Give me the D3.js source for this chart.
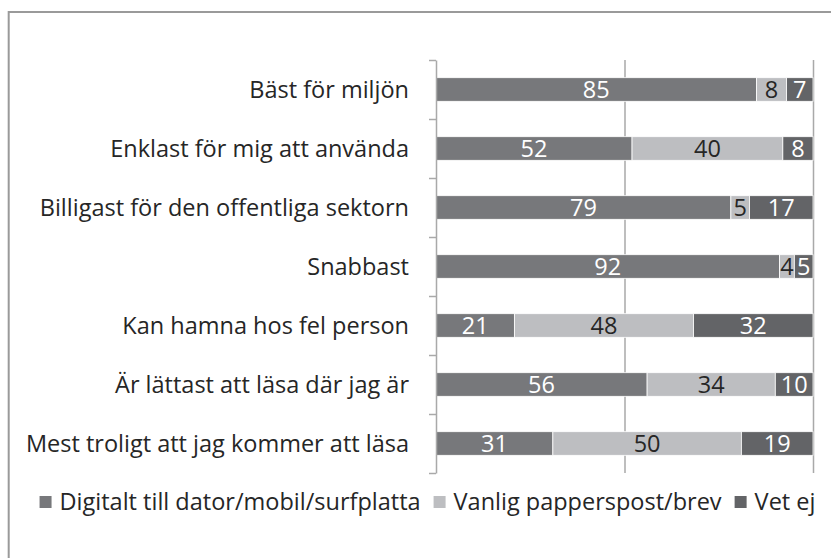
<!DOCTYPE html>
<html>
<head>
<meta charset="utf-8">
<script src="https://cdn.jsdelivr.net/npm/d3@7/dist/d3.min.js"></script>
<style>
	body { margin: 0; background: #ffffff; }
	text { font-family: "Open Sans", Lato, sans-serif; }
</style>
</head>
<body>
<svg id="chart"></svg>
<script>

var categories = ["Bäst för miljön", "Enklast för mig att använda", "Billigast för den offentliga sektorn",
	"Snabbast", "Kan hamna hos fel person", "Är lättast att läsa där jag är", "Mest troligt att jag kommer att läsa"];
var seriesNames = ["Digitalt till dator/mobil/surfplatta", "Vanlig papperspost/brev", "Vet ej"];
var digitalt = [85, 52, 79, 92, 21, 56, 31];
var papper = [8, 40, 5, 4, 48, 34, 50];
var vetEj = [7, 8, 17, 5, 32, 10, 19];
var gridTicks = [0.5, 1];

var WIDTH = 831, HEIGHT = 558,
	FONT = 23.5,
	colors = ["#77787b", "#bdbec1", "#636467"],
	labelColors = ["#ffffff", "#262626", "#ffffff"],
	_margin = {top: 60, right: 18, bottom: 85, left: 436};

var rows = categories.map(function(c, i) {
	return {cat: c, s0: digitalt[i], s1: papper[i], s2: vetEj[i]};
});

var _svg = d3.select("#chart").attr("width", WIDTH).attr("height", HEIGHT);

var _x = d3.scaleLinear().domain([0, 1]).range([_margin.left, WIDTH - _margin.right]);
var _y = d3.scaleBand().domain(categories).range([_margin.top, HEIGHT - _margin.bottom]).padding(0);
var _edges = d3.scaleLinear().domain([0, categories.length]).range(_y.range());

var stack = d3.stack().keys(["s0", "s1", "s2"]).offset(d3.stackOffsetExpand);
var layers = stack(rows);

// outer frame (only top and left visible)
_svg.append("path")
	.attr("d", "M8.7," + HEIGHT + "V12H" + WIDTH)
	.style("fill", "none")
	.style("stroke", "#9a9a9a")
	.style("stroke-width", 2);

// vertical gridlines
var grid = _svg.append("g")
	.attr("transform", "translate(0," + _y.range()[1] + ")")
	.call(d3.axisBottom(_x).tickValues(gridTicks).tickSize(-(_y.range()[1] - _y.range()[0])).tickFormat(""));
grid.select(".domain").remove();
grid.selectAll(".tick line").style("stroke", "#a9a9a9").style("stroke-width", 1.5);

// bars
var barH = _y.bandwidth() * 0.4;
var barOff = (_y.bandwidth() - barH) / 2;

var layer = _svg.selectAll(".layer")
	.data(layers)
	.enter().append("g")
	.attr("class", "layer")
	.style("fill", function(d, i) { return colors[i]; });

layer.selectAll("rect")
	.data(function(d) { return d; })
	.enter().append("rect")
	.attr("x", function(d) { return _x(d[0]); })
	.attr("y", function(d) { return _y(d.data.cat) + barOff; })
	.attr("width", function(d) { return _x(d[1]) - _x(d[0]); })
	.attr("height", barH)
	.style("stroke", "#ffffff")
	.style("stroke-width", 0.8);

layer.selectAll(".value")
	.data(function(d, i) { return d.map(function(p) { return {p: p, i: i, key: d.key}; }); })
	.enter().append("text")
	.attr("class", "value")
	.attr("x", function(d) { return (_x(d.p[0]) + _x(d.p[1])) / 2; })
	.attr("y", function(d) { return _y(d.p.data.cat) + _y.bandwidth() / 2; })
	.attr("dy", "0.36em")
	.attr("text-anchor", "middle")
	.style("font-size", FONT + "px")
	.style("fill", function(d) { return labelColors[d.i]; })
	.text(function(d) { return d.p.data[d.key]; });

// left axis with ticks between categories
var yAxis = _svg.append("g")
	.attr("transform", "translate(" + _margin.left + ",0)")
	.call(d3.axisLeft(_edges).ticks(categories.length).tickSizeInner(7).tickSizeOuter(0).tickFormat(""));
yAxis.select(".domain").style("stroke", "#a9a9a9").style("stroke-width", 1.5);
yAxis.selectAll(".tick line").style("stroke", "#a9a9a9").style("stroke-width", 1.5);

_svg.append("g").selectAll("text")
	.data(categories)
	.enter().append("text")
	.attr("x", _margin.left - 27)
	.attr("y", function(d) { return _y(d) + _y.bandwidth() / 2; })
	.attr("dy", "0.36em")
	.attr("text-anchor", "end")
	.style("font-size", FONT + "px")
	.style("fill", "#262626")
	.text(function(d) { return d; });

// legend
var legend = _svg.append("g");
var items = legend.selectAll(".item")
	.data(seriesNames)
	.enter().append("g")
	.attr("class", "item");
items.append("rect")
	.attr("width", 12).attr("height", 12)
	.attr("y", -6)
	.style("fill", function(d, i) { return colors[i]; });
items.append("text")
	.attr("x", 20)
	.attr("dy", "0.36em")
	.style("font-size", FONT + "px")
	.style("fill", "#262626")
	.text(function(d) { return d; });

var pos = 0;
items.each(function() {
	var w = this.querySelector("text").getComputedTextLength();
	d3.select(this).attr("transform", "translate(" + pos + ",0)");
	pos += 20 + w + 13;
});
var total = pos - 13;
legend.attr("transform", "translate(" + (427.5 - total / 2) + ",502)");

</script>
</body>
</html>
